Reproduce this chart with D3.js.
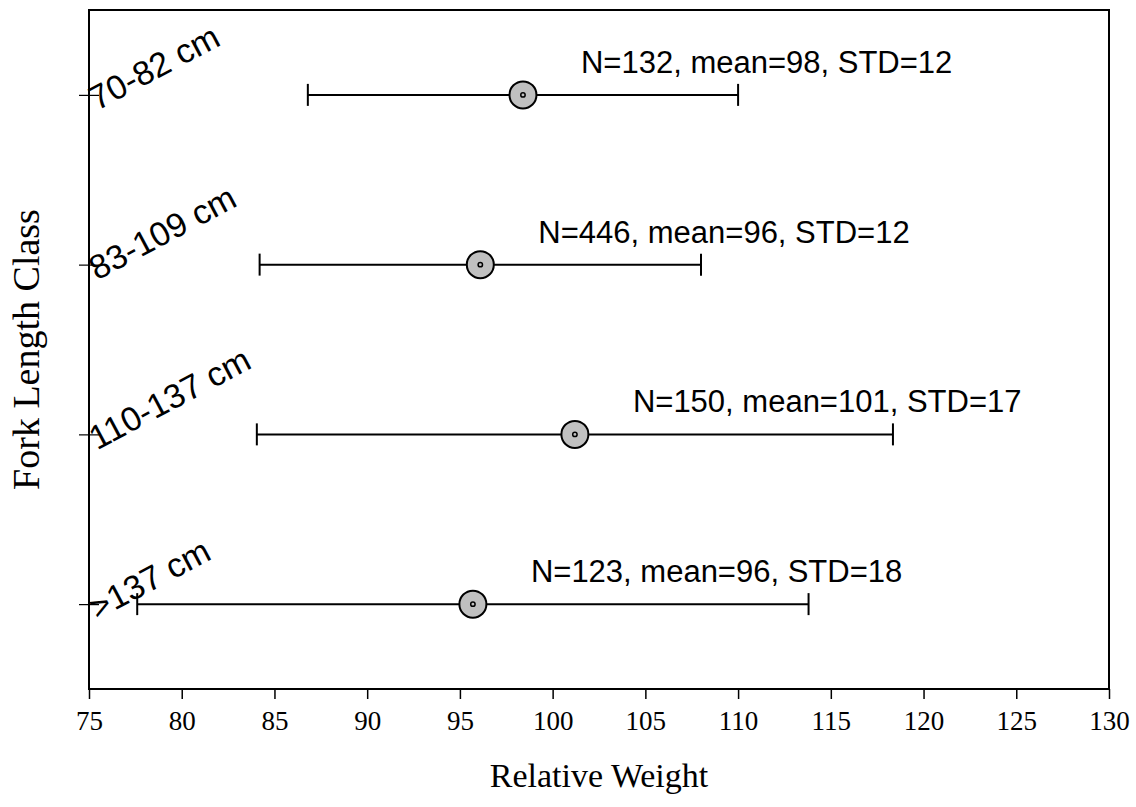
<!DOCTYPE html>
<html>
<head>
<meta charset="utf-8">
<script src="https://cdn.jsdelivr.net/npm/d3@7"></script>
<style>
  body { margin: 0; background: #fff; }
</style>
</head>
<body>
<div id="chart"></div>
<script>
var classes = ["70-82 cm", "83-109 cm", "110-137 cm", ">137 cm"];
var means = [98.4, 96.1, 101.2, 95.7];
var sds = [11.6, 11.9, 17.15, 18.1];
var counts = [132, 446, 150, 123];
var meanLabels = [98, 96, 101, 96];
var stdLabels = [12, 12, 17, 18];
var xTicks = [75, 80, 85, 90, 95, 100, 105, 110, 115, 120, 125, 130];

var margin = { top: 10, right: 27, bottom: 118, left: 89 },
  width = 1136 - margin.left - margin.right,
  height = 807 - margin.top - margin.bottom;

var svg = d3.select("#chart")
  .append("svg")
  .attr("width", 1136)
  .attr("height", 807)
  .append("g")
  .attr("transform", "translate(" + margin.left + "," + margin.top + ")");

var x = d3.scaleLinear().domain([75, 130]).range([0, width]);
var y = d3.scalePoint().domain(classes).range([0, height]).padding(0.5);

var rows = classes.map(function (c, i) {
  return { cls: c, mean: means[i], sd: sds[i], n: counts[i], ml: meanLabels[i], sl: stdLabels[i] };
});

// x axis
var xAxis = svg.append("g")
  .attr("transform", "translate(0," + height + ")")
  .call(d3.axisBottom(x).tickValues(xTicks).tickSize(10).tickSizeOuter(0).tickPadding(12));
xAxis.select(".domain").remove();
xAxis.selectAll("line").attr("stroke", "#000").attr("stroke-width", 1.5);
xAxis.selectAll("text")
  .attr("font-family", "Liberation Serif, Times New Roman, serif")
  .attr("font-size", 27)
  .attr("fill", "#000");

// y axis ticks crossing the frame
var yAxis = svg.append("g")
  .call(d3.axisLeft(y).tickSize(10).tickFormat(""));
yAxis.select(".domain").remove();
yAxis.selectAll("line").attr("x1", 10).attr("stroke", "#000").attr("stroke-width", 1.2);

// frame
svg.append("rect")
  .attr("x", 0).attr("y", 0)
  .attr("width", width).attr("height", height)
  .attr("fill", "none")
  .attr("stroke", "#000")
  .attr("stroke-width", 2);

// category labels, slanted
svg.selectAll(".cls")
  .data(rows)
  .enter()
  .append("text")
  .attr("class", "cls")
  .attr("transform", function (d) { return "translate(8," + (y(d.cls) + 16) + ") rotate(-28)"; })
  .attr("font-family", "Liberation Sans, Arial, sans-serif")
  .attr("font-size", 34)
  .text(function (d) { return d.cls; });

// error bars
var bars = svg.selectAll(".bar").data(rows).enter().append("g").attr("class", "bar");
bars.append("line")
  .attr("x1", function (d) { return x(d.mean - d.sd); })
  .attr("x2", function (d) { return x(d.mean + d.sd); })
  .attr("y1", function (d) { return y(d.cls); })
  .attr("y2", function (d) { return y(d.cls); })
  .attr("stroke", "#000").attr("stroke-width", 2);
[-1, 1].forEach(function (s) {
  bars.append("line")
    .attr("x1", function (d) { return x(d.mean + s * d.sd); })
    .attr("x2", function (d) { return x(d.mean + s * d.sd); })
    .attr("y1", function (d) { return y(d.cls) - 11; })
    .attr("y2", function (d) { return y(d.cls) + 11; })
    .attr("stroke", "#000").attr("stroke-width", 2);
});
bars.append("circle")
  .attr("cx", function (d) { return x(d.mean); })
  .attr("cy", function (d) { return y(d.cls); })
  .attr("r", 13.5)
  .attr("fill", "#c0c0c0")
  .attr("stroke", "#000").attr("stroke-width", 2);
bars.append("circle")
  .attr("cx", function (d) { return x(d.mean); })
  .attr("cy", function (d) { return y(d.cls); })
  .attr("r", 2.2)
  .attr("fill", "#c0c0c0")
  .attr("stroke", "#000").attr("stroke-width", 1.5);

// annotations
bars.append("text")
  .attr("x", function (d) { return x(d.mean) + 58; })
  .attr("y", function (d) { return y(d.cls) - 22; })
  .attr("font-family", "Liberation Sans, Arial, sans-serif")
  .attr("font-size", 31)
  .text(function (d) { return "N=" + d.n + ", mean=" + d.ml + ", STD=" + d.sl; });

// axis titles
svg.append("text")
  .attr("x", width / 2)
  .attr("y", height + 98)
  .attr("text-anchor", "middle")
  .attr("font-family", "Liberation Serif, Times New Roman, serif")
  .attr("font-size", 34)
  .text("Relative Weight");

svg.append("text")
  .attr("transform", "translate(" + (-50) + "," + (height / 2) + ") rotate(-90)")
  .attr("text-anchor", "middle")
  .attr("font-family", "Liberation Serif, Times New Roman, serif")
  .attr("font-size", 38)
  .text("Fork Length Class");
</script>
</body>
</html>
